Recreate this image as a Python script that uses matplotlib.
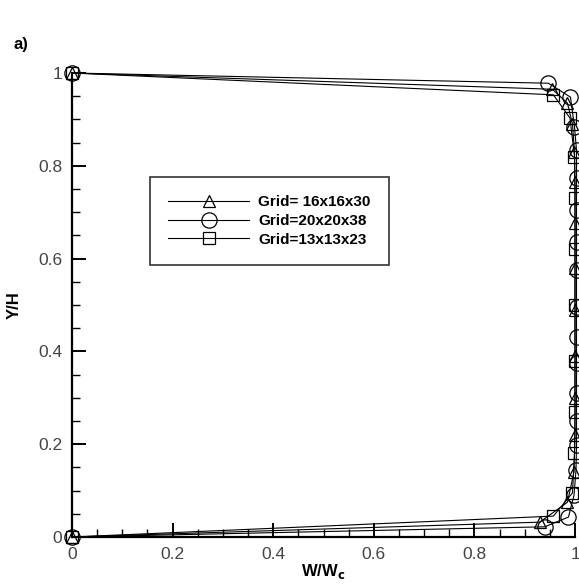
import matplotlib
matplotlib.use("Agg")
import matplotlib.pyplot as plt
from matplotlib.ticker import MultipleLocator

# velocity profiles W/Wc across the channel height for three grids
y_16 = [0, 0.032, 0.075, 0.14, 0.22, 0.30, 0.39, 0.49, 0.58, 0.677, 0.765,
        0.83, 0.89, 0.935, 0.965, 1.0]
w_16 = [0, 0.93, 0.985, 0.998, 1.0, 1.0, 1.0, 1.0, 1.0, 1.0, 1.0,
        0.999, 0.995, 0.985, 0.955, 0]

y_20 = [0, 0.022, 0.043, 0.09, 0.144, 0.198, 0.25, 0.31, 0.375, 0.431,
        0.496, 0.575, 0.636, 0.705, 0.774, 0.834, 0.884, 0.948, 0.978, 1.0]
w_20 = [0, 0.94, 0.987, 0.998, 1.002, 1.003, 1.003, 1.003, 1.003, 1.003,
        1.003, 1.003, 1.003, 1.003, 1.003, 1.003, 0.999, 0.991, 0.947, 0]

y_13 = [0, 0.045, 0.095, 0.18, 0.27, 0.38, 0.5, 0.62, 0.73, 0.82, 0.903,
        0.953, 1.0]
w_13 = [0, 0.957, 0.995, 0.999, 1.0, 1.0, 1.0, 1.0, 1.0, 0.999, 0.99,
        0.957, 0]

labels = ["Grid= 16x16x30", "Grid=20x20x38", "Grid=13x13x23"]

plt.rcParams["font.family"] = ["Liberation Sans", "DejaVu Sans"]

fig = plt.figure(figsize=(5.79, 5.87), dpi=100)
ax = fig.add_axes([72 / 579, 50 / 587, 503 / 579, 464 / 587])

common = dict(color="black", lw=0.8, mfc="none", mec="black", mew=0.9,
              clip_on=False)
ax.plot(w_16, y_16, marker="^", ms=9, label=labels[0], **common)
ax.plot(w_20, y_20, marker="o", ms=11, label=labels[1], **common)
ax.plot(w_13, y_13, marker="s", ms=8, label=labels[2], **common)

ax.set_xlim(0, 1)
ax.set_ylim(0, 1)
for side in ("top", "right"):
    ax.spines[side].set_visible(False)
for side in ("left", "bottom"):
    ax.spines[side].set_linewidth(1.6)

ax.xaxis.set_major_locator(MultipleLocator(0.2))
ax.xaxis.set_minor_locator(MultipleLocator(0.05))
ax.yaxis.set_major_locator(MultipleLocator(0.2))
ax.yaxis.set_minor_locator(MultipleLocator(0.05))
ax.tick_params(which="major", direction="in", length=10, width=1.4,
               labelsize=12.5, labelcolor="#444444", pad=7)
ax.tick_params(which="minor", direction="in", length=6, width=1.0)
ax.tick_params(top=False, right=False, which="both")
ax.set_xticks([0, 0.2, 0.4, 0.6, 0.8, 1.0])
ax.set_xticklabels(["0", "0.2", "0.4", "0.6", "0.8", "1"])
ax.set_yticks([0, 0.2, 0.4, 0.6, 0.8, 1.0])
ax.set_yticklabels(["0", "0.2", "0.4", "0.6", "0.8", "1"])

ax.set_xlabel("W/W$_\\mathbf{c}$", fontsize=12, fontweight="bold", labelpad=0)
ax.set_ylabel("Y/H", fontsize=12, fontweight="bold", labelpad=12)

leg = ax.legend(loc="upper left", bbox_to_anchor=(78 / 503, 1 - 104 / 464),
                frameon=True, fancybox=False, edgecolor="black",
                handlelength=5.3, handletextpad=0.6, labelspacing=0.3,
                borderpad=1.2, borderaxespad=0,
                prop={"weight": "bold", "size": 11})
leg.get_frame().set_linewidth(1.2)

fig.text(13 / 579, 1 - 45 / 587, "a)", fontsize=12, fontweight="bold",
         va="center", ha="left")

fig.savefig("out.png", dpi=100)
